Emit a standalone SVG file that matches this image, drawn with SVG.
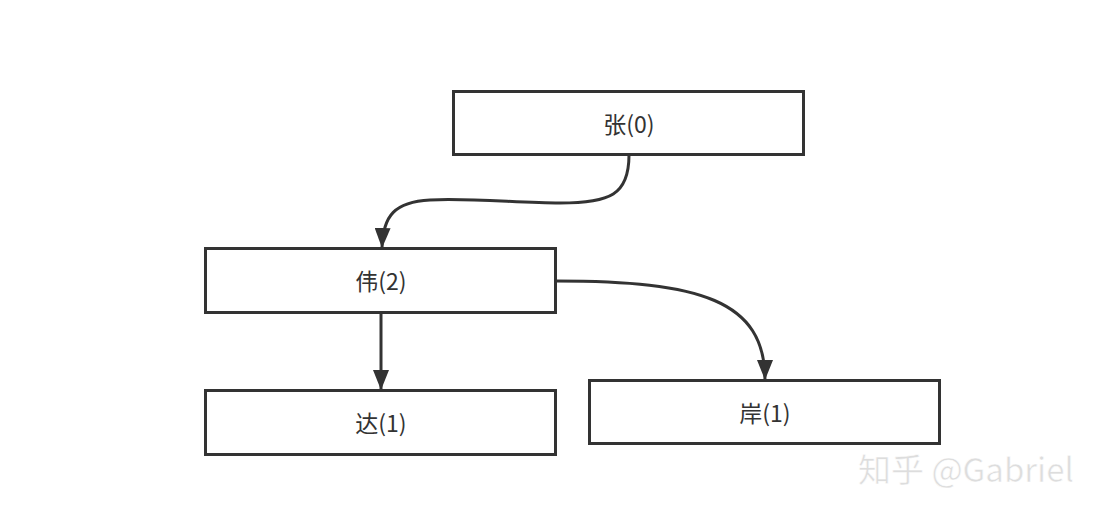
<svg xmlns="http://www.w3.org/2000/svg" width="1105" height="518" viewBox="0 0 1105 518">
<style>
.box{fill:#fff;stroke:#333;stroke-width:3}
.lbl{font-family:"Noto Sans CJK SC","Liberation Sans",sans-serif;font-size:23px;fill:#333;text-anchor:middle;dominant-baseline:central}
.edge{fill:none;stroke:#333;stroke-width:3}
.wm{font-family:"Noto Sans CJK SC","Liberation Sans",sans-serif;font-size:33px;fill:#ddd;stroke:#fff;stroke-width:0.5}
</style>
<defs>
<marker id="arrow" viewBox="0 0 20 16" refX="20" refY="8" markerWidth="20" markerHeight="16" markerUnits="userSpaceOnUse" orient="auto">
<path d="M0,0 L20,8 L0,16 Z" fill="#333"/>
</marker>
</defs>
<rect width="1105" height="518" fill="#fff"/>
<g id="connectors">
<path class="edge" d="M629,155 C629,195 610,203 560,203 C520,203 470,198 430,200 C395,202 383,215 382,248" marker-end="url(#arrow)"/>
<path class="edge" d="M556,281 C700,281 765,300 765,380" marker-end="url(#arrow)"/>
<path class="edge" d="M381,313 L381,390" marker-end="url(#arrow)"/>
</g>
<g id="node-zhang">
<rect class="box" x="453.5" y="91.5" width="350" height="63"/>
<text class="lbl" x="629" y="123">张(0)</text>
</g>
<g id="node-wei">
<rect class="box" x="205.5" y="248.5" width="350" height="64"/>
<text class="lbl" x="381" y="280">伟(2)</text>
</g>
<g id="node-da">
<rect class="box" x="205.5" y="390.5" width="350" height="64"/>
<text class="lbl" x="381" y="422">达(1)</text>
</g>
<g id="node-an">
<rect class="box" x="589.5" y="380.5" width="350" height="63"/>
<text class="lbl" x="765" y="412">岸(1)</text>
</g>
<text class="wm" x="858" y="482">知乎 @Gabriel</text>
</svg>
